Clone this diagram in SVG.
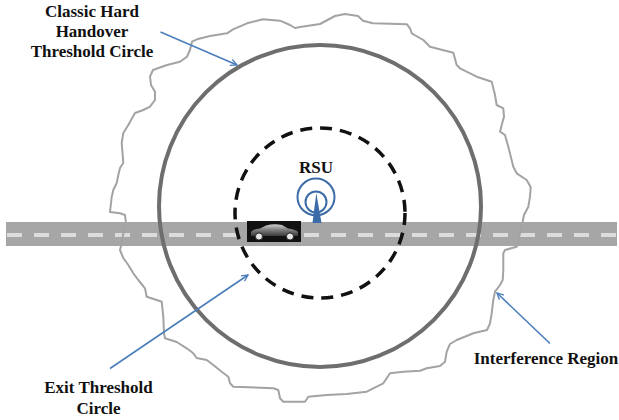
<svg xmlns="http://www.w3.org/2000/svg" width="619" height="420" viewBox="0 0 619 420">
  <style>
    .label { font-family: "Liberation Serif", "Times New Roman", serif; font-weight: bold; font-size: 17px; fill: #111; text-anchor: middle; }
    .pointer { fill: none; stroke: #4a7ebb; stroke-width: 1.6; marker-end: url(#chevron); }
  </style>
  <defs>
    <marker id="chevron" viewBox="0 0 10 10" refX="9" refY="5" markerWidth="8" markerHeight="8" markerUnits="userSpaceOnUse" orient="auto">
      <path d="M1,1 L9,5 L1,9" fill="none" stroke="#4a7ebb" stroke-width="1.6"/>
    </marker>
    <linearGradient id="carBody" x1="0" y1="0" x2="0" y2="1">
      <stop offset="0" stop-color="#d0d0d0"/>
      <stop offset="0.5" stop-color="#7a7a7a"/>
      <stop offset="1" stop-color="#3a3a3a"/>
    </linearGradient>
  </defs>

  <rect width="619" height="420" fill="#ffffff"/>

  <!-- road with lane markings -->
  <g id="road">
    <rect x="6" y="222" width="611" height="24" fill="#a6a6a6"/>
    <line x1="7" y1="235" x2="617" y2="235" stroke="#dcdcdc" stroke-width="4" stroke-dasharray="15 12"/>
  </g>

  <!-- interference region boundary -->
  <g id="interference-region">
    <path fill="none" stroke="#a3a3a3" stroke-width="2" stroke-linejoin="round"
      d="M110,212 L111.7,197 L113.3,190 L116.7,183 L118.3,175 L120,168 L123.3,163 L122.7,155 L121.7,143 L123.3,133 L128.3,125 L135,113 L143.3,110 L150,106.7 L155,100 L155,91.7 L151,85 L150,76.7 L153,70 L167,65 L180,61.7 L187,56.7 L190,50 L192,41.7 L197,39.3 L210,36 L227,33.3 L233,29.3 L247,23.3 L263,19.3 L280,20.7 L290,25 L295,28 L300,27 L320,24 L335,16 L345,14 L358,16 L363,20.7 L373,23.3 L407,24.3 L410,28.3 L411.7,33.3 L423.3,40 L430,46.7 L453.3,52.7 L456.7,65 L460,68.3 L476.7,76.7 L491.7,81.7 L495,95 L496.7,105 L503.3,108.3 L504,116.7 L501.7,125 L500,131.7 L505,135 L508.3,146.7 L513.3,166.7 L516.7,173.3 L526.7,180 L530.7,187.3 L530,196.7 L528.3,206.7 L524,215 L521.7,226.7 L518.3,240 L516.7,246.7 L505,250 L503.3,253.3 L503.3,270 L502.7,280 L500,285 L495,291.7 L493.3,300 L491.7,313.3 L490,323.3 L487,330 L473.3,333.3 L466.7,336 L456.7,340 L450,344 L446.7,351.7 L445,361.7 L440,366 L426.7,368.3 L420,370.7 L403.3,371.7 L390,373.3 L386.7,378.3 L383.3,383.3 L366.7,391.7 L346.7,394 L326.7,395 L308.3,396.7 L305,401.7 L283.3,401.7 L280,398.3 L278.3,390 L273.3,388.3 L233.3,386.7 L230,383.3 L228.3,376.7 L221.7,371.7 L213.3,365 L206.7,360 L196.7,358 L193.3,353.3 L186.7,348.3 L176.7,342 L165,338.3 L164,333.3 L163.3,316.7 L161.7,301.7 L156.7,300 L146.7,296.7 L145,288.3 L138.3,280 L133.3,273.3 L128.3,265 L123.3,258 L120,250 L121.7,243.3 L123.3,233.3 L126,223.3 L125,215 L120,213.3 Z"/>
  </g>

  <!-- classic hard handover threshold circle -->
  <g id="handover-circle">
    <circle cx="320" cy="206" r="161" fill="none" stroke="#6e6e6e" stroke-width="4"/>
  </g>

  <!-- exit threshold circle -->
  <g id="exit-circle">
    <circle cx="320" cy="213" r="85" fill="none" stroke="#111" stroke-width="3.5" stroke-dasharray="12 8"/>
  </g>

  <!-- roadside unit -->
  <g id="rsu">
    <circle cx="316" cy="197" r="18.5" fill="none" stroke="#3b6ba8" stroke-width="2"/>
    <circle cx="316" cy="202" r="10.5" fill="none" stroke="#3b6ba8" stroke-width="2"/>
    <path d="M316.3,193 L312.5,223 L321.5,223 Z" fill="#3b6ba8"/>
    <text class="label" x="316" y="173" font-size="16">RSU</text>
  </g>

  <!-- vehicle -->
  <g id="vehicle">
    <rect x="247" y="221" width="54" height="21" fill="#111"/>
    <path d="M251,236 L251,232 Q253,229 260,228.5 L266,225.5 Q274,223.5 282,225 L288,228.5 Q296,229.5 298,232 L298,236 Z" fill="url(#carBody)"/>
    <circle cx="259" cy="236.5" r="3.6" fill="#e6e6e6" stroke="#222" stroke-width="1"/>
    <circle cx="290" cy="236.5" r="3.6" fill="#e6e6e6" stroke="#222" stroke-width="1"/>
  </g>

  <!-- labels -->
  <g id="label-handover">
    <text class="label" x="92" y="17">Classic Hard</text>
    <text class="label" x="92" y="37">Handover</text>
    <text class="label" x="92" y="57">Threshold Circle</text>
  </g>
  <g id="label-exit">
    <text class="label" x="98.5" y="393">Exit Threshold</text>
    <text class="label" x="98.5" y="414">Circle</text>
  </g>
  <g id="label-interference">
    <text class="label" x="546" y="364">Interference Region</text>
  </g>

  <!-- pointer arrows -->
  <g id="connectors">
    <line class="pointer" x1="160.5" y1="32" x2="237" y2="65"/>
    <line class="pointer" x1="110" y1="368.5" x2="248" y2="275"/>
    <line class="pointer" x1="550" y1="343.5" x2="497" y2="293"/>
  </g>
</svg>
